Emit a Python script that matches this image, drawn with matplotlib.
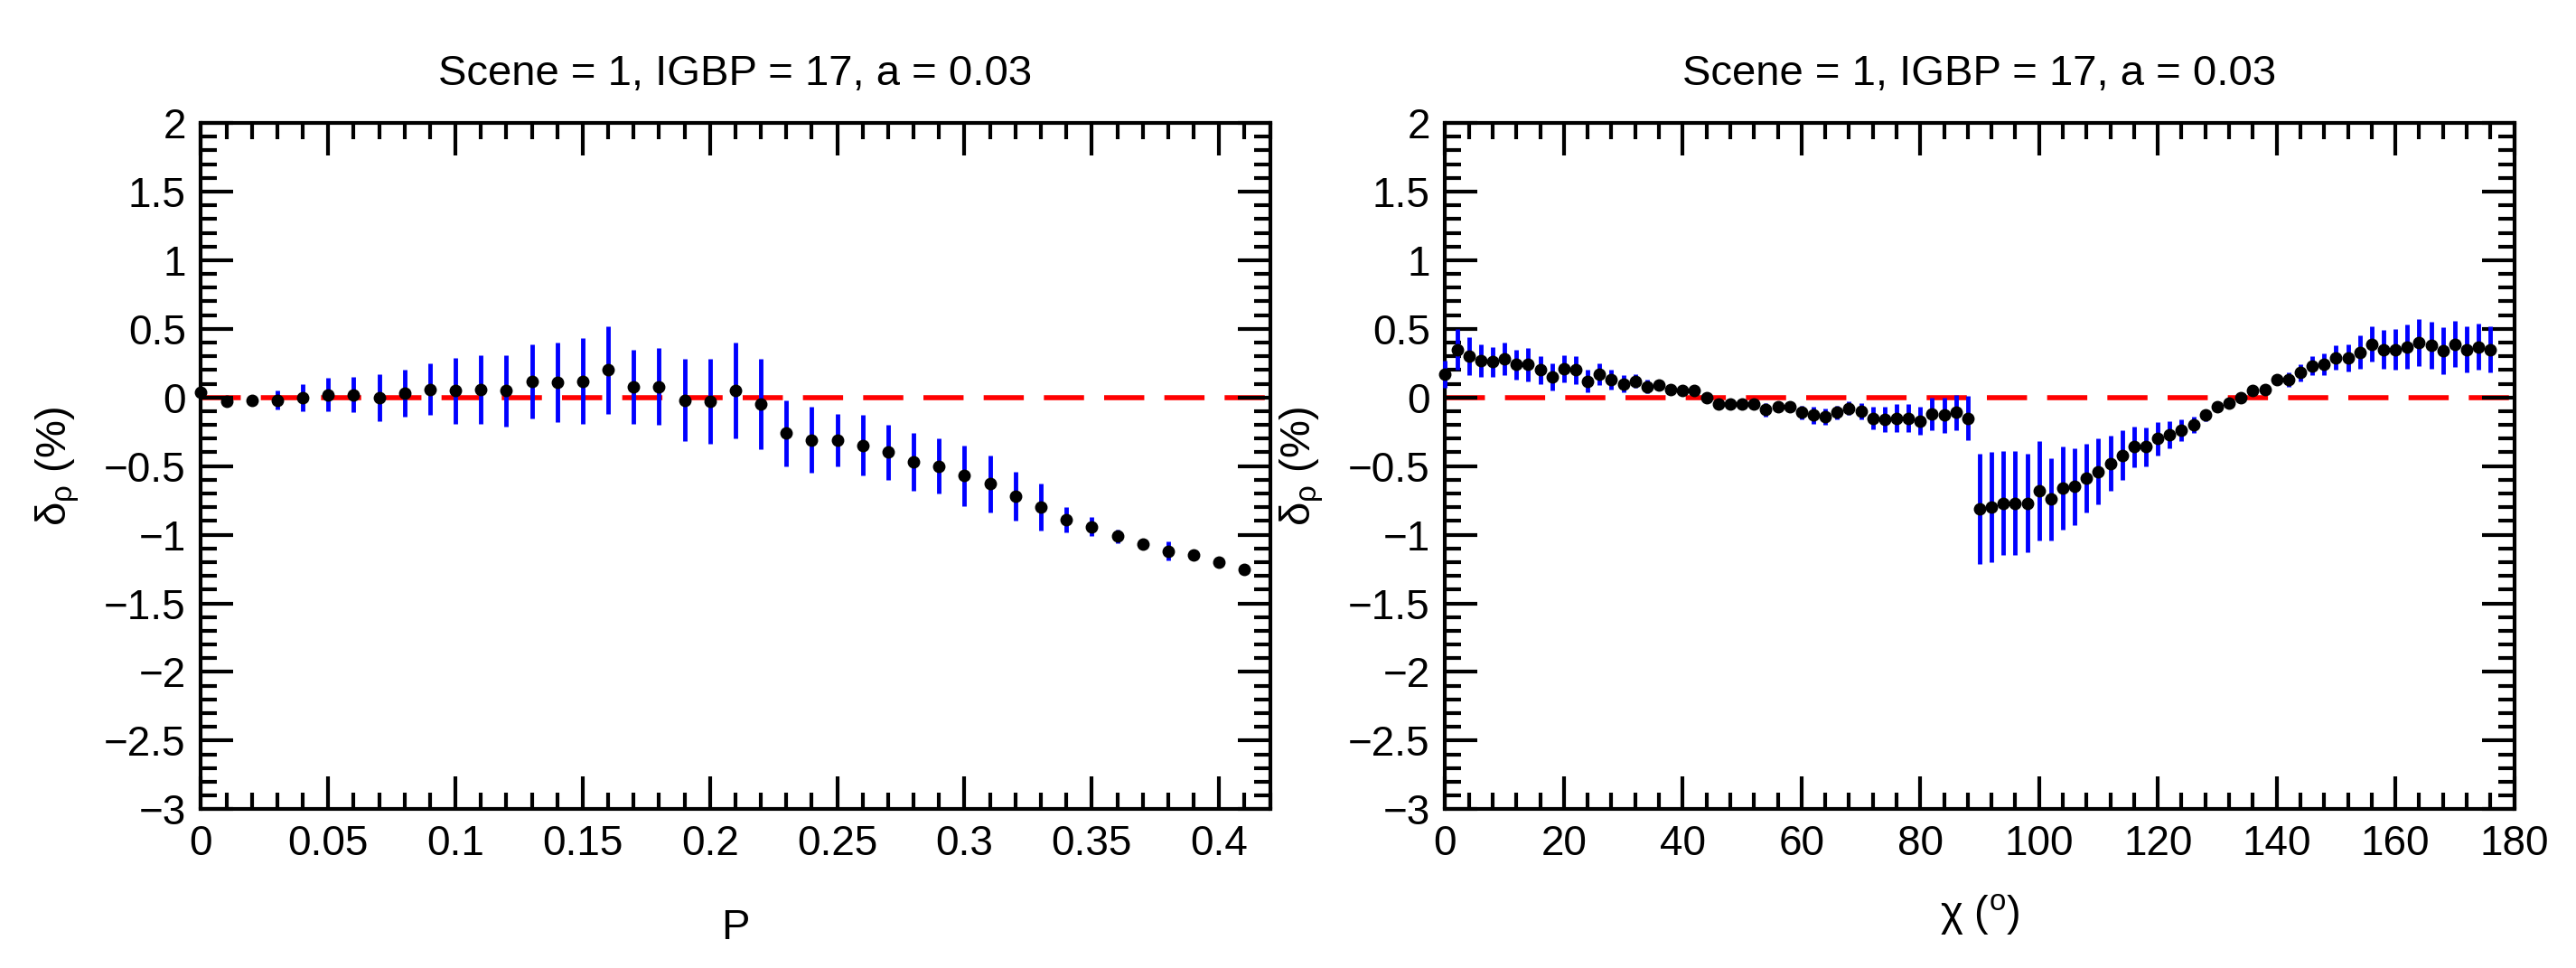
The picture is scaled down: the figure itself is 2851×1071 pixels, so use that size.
import numpy as np
import matplotlib
matplotlib.use("Agg")
import matplotlib.pyplot as plt
from matplotlib.ticker import MultipleLocator

plt.rcParams["font.family"] = ["Liberation Sans", "DejaVu Sans"]
plt.rcParams["mathtext.fontset"] = "custom"
plt.rcParams["mathtext.rm"] = "Liberation Sans"
plt.rcParams["mathtext.it"] = "Liberation Sans:italic"

# left panel: delta vs P
p_vals = [0.00, 0.01, 0.02, 0.03, 0.04, 0.05, 0.06, 0.07, 0.08, 0.09, 0.10, 0.11, 0.12, 0.13,
          0.14, 0.15, 0.16, 0.17, 0.18, 0.19, 0.20, 0.21, 0.22, 0.23, 0.24, 0.25, 0.26, 0.27,
          0.28, 0.29, 0.30, 0.31, 0.32, 0.33, 0.34, 0.35, 0.36, 0.37, 0.38, 0.39, 0.40, 0.41]
p_delta = [0.04, -0.03, -0.02, -0.02, 0.00, 0.02, 0.02, 0.00, 0.03, 0.06, 0.05, 0.06, 0.05, 0.12,
           0.11, 0.12, 0.20, 0.08, 0.08, -0.02, -0.03, 0.05, -0.05, -0.26, -0.31, -0.31, -0.35, -0.40,
           -0.47, -0.50, -0.57, -0.63, -0.72, -0.80, -0.89, -0.94, -1.01, -1.07, -1.12, -1.15, -1.20, -1.25]
p_err = [0.02, 0.01, 0.04, 0.07, 0.10, 0.12, 0.13, 0.17, 0.17, 0.19, 0.24, 0.25, 0.26, 0.27,
         0.29, 0.31, 0.32, 0.27, 0.28, 0.30, 0.31, 0.35, 0.33, 0.24, 0.24, 0.19, 0.22, 0.20,
         0.21, 0.20, 0.22, 0.21, 0.18, 0.17, 0.09, 0.07, 0.05, 0.04, 0.07, 0.02, 0.02, 0.02]

# right panel: delta vs chi
chi_vals = list(range(0, 178, 2))
chi_delta = [0.17, 0.35, 0.30, 0.27, 0.26, 0.28, 0.24, 0.24, 0.20, 0.15, 0.21, 0.20, 0.12, 0.17,
             0.13, 0.10, 0.12, 0.08, 0.09, 0.06, 0.05, 0.05, 0.00, -0.05, -0.05, -0.05, -0.05, -0.09,
             -0.07, -0.07, -0.11, -0.13, -0.14, -0.11, -0.08, -0.10, -0.15, -0.16, -0.15, -0.15, -0.17,
             -0.12, -0.13, -0.11, -0.15, -0.81, -0.80, -0.77, -0.77, -0.77, -0.68, -0.74, -0.66, -0.65,
             -0.59, -0.54, -0.48, -0.42, -0.36, -0.36, -0.30, -0.27, -0.24, -0.20, -0.13, -0.07, -0.04,
             0.00, 0.05, 0.06, 0.13, 0.13, 0.18, 0.23, 0.24, 0.29, 0.29, 0.33, 0.39, 0.35, 0.35, 0.37,
             0.40, 0.38, 0.34, 0.39, 0.35, 0.37, 0.35]
chi_err = [0.10, 0.15, 0.14, 0.12, 0.11, 0.12, 0.11, 0.12, 0.10, 0.10, 0.10, 0.10, 0.08, 0.08,
           0.07, 0.06, 0.05, 0.05, 0.04, 0.04, 0.04, 0.04, 0.03, 0.03, 0.03, 0.03, 0.03, 0.05,
           0.04, 0.04, 0.05, 0.06, 0.06, 0.05, 0.05, 0.06, 0.08, 0.09, 0.10, 0.10, 0.10,
           0.12, 0.13, 0.13, 0.16, 0.40, 0.40, 0.38, 0.38, 0.36, 0.36, 0.30, 0.30, 0.28,
           0.25, 0.24, 0.20, 0.18, 0.15, 0.14, 0.12, 0.10, 0.08, 0.06, 0.04, 0.04, 0.04,
           0.04, 0.04, 0.04, 0.04, 0.05, 0.06, 0.07, 0.08, 0.09, 0.10, 0.12, 0.13, 0.14, 0.15, 0.16,
           0.17, 0.17, 0.17, 0.17, 0.17, 0.17, 0.17]

title = "Scene = 1, IGBP = 17, a = 0.03"

fig = plt.figure(figsize=(28.51, 10.71), dpi=100)
ax1 = fig.add_axes([0.078, 0.164, 0.415, 0.709])
ax2 = fig.add_axes([0.561, 0.164, 0.415, 0.709])


def style_axis(ax, xmax, xmajor, xminor):
    ax.set_xlim(0, xmax)
    ax.set_ylim(-3, 2)
    ax.xaxis.set_major_locator(MultipleLocator(xmajor))
    ax.xaxis.set_minor_locator(MultipleLocator(xminor))
    ax.yaxis.set_major_locator(MultipleLocator(0.5))
    ax.yaxis.set_minor_locator(MultipleLocator(0.1))
    ax.tick_params(which="both", direction="in", top=True, right=True, width=3, labelsize=33, pad=12)
    ax.tick_params(which="major", length=26)
    ax.tick_params(which="minor", length=13)
    for s in ax.spines.values():
        s.set_linewidth(3)
    ax.axhline(0, color="red", lw=4, dashes=(8, 4), zorder=1)
    ax.set_title(title, fontsize=34, pad=30)
    ax.set_ylabel(r"δ$_{\rm ρ}$ (%)", fontsize=34, labelpad=18)
    ax.yaxis.set_major_formatter(plt.FuncFormatter(lambda v, _: f"{v:g}".replace("-", "\u2212")))


style_axis(ax1, 0.42, 0.05, 0.01)
ax1.errorbar(p_vals, p_delta, yerr=p_err, fmt="o", color="black", ms=9,
             ecolor="blue", elinewidth=3.5, capsize=0, zorder=3, clip_on=False)
ax1.xaxis.set_major_formatter(plt.FuncFormatter(lambda v, _: f"{v:g}"))
ax1.set_xlabel("P", fontsize=34, labelpad=35)

style_axis(ax2, 180, 20, 4)
ax2.errorbar(chi_vals, chi_delta, yerr=chi_err, fmt="o", color="black", ms=9,
             ecolor="blue", elinewidth=3.5, capsize=0, zorder=3, clip_on=False)
ax2.set_xlabel(r"χ ($^{\rm o}$)", fontsize=34, labelpad=22)

fig.savefig("out.png", dpi=100)
